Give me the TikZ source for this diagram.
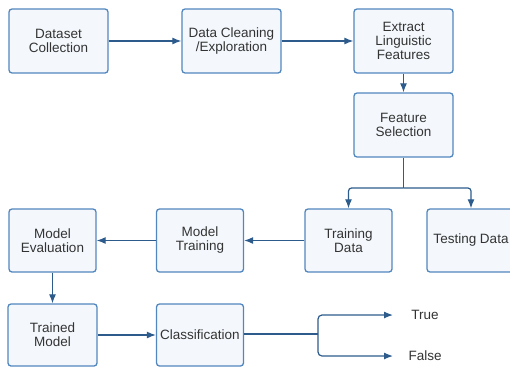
\documentclass[tikz,border=0pt]{standalone}
\usepackage{fontspec}
\setmainfont{Liberation Sans}
\usetikzlibrary{arrows.meta}
\definecolor{boxline}{HTML}{5286BF}
\definecolor{boxfill}{HTML}{F4F8FD}
\definecolor{arrowline}{HTML}{2D5B8C}
\definecolor{txtgray}{HTML}{333333}
\tikzset{
    stepbox/.style = {rectangle, rounded corners=3pt, draw=boxline, fill=boxfill, line width=1.3pt, align=center, text=txtgray, font=\fontsize{13.5}{14}\selectfont, inner sep=0pt},
    wide_box/.style = {stepbox, minimum width=99pt, minimum height=64pt},
    small_box/.style = {stepbox, minimum width=87pt, minimum height=63pt},
    flow/.style = {draw=arrowline, line width=1.2pt, -{Latex[length=9pt,width=7pt]}},
    lbl/.style = {text=txtgray, font=\fontsize{13.5}{14}\selectfont, inner sep=0pt}
}

\begin{document}
\begin{tikzpicture}[x=1pt,y=-1pt]
    \useasboundingbox (0,0) rectangle (510,367);
    % first row
    \node [wide_box] (collect) at (58.5,41) {Dataset\\Collection};
    \node [wide_box] (clean) at (231.5,41) {Data Cleaning\\/Exploration};
    \node [wide_box] (extract) at (403.5,41) {Extract\\Linguistic\\Features};
    \node [wide_box] (fsel) at (403.5,125) {Feature\\Selection};
    % second row
    \node [small_box] (traindata) at (348.5,240.5) {Training\\Data};
    \node [small_box, minimum width=88pt] (testdata) at (471,240.5) {Testing Data};
    \node [small_box] (mtrain) at (200,240.5) {Model\\Training};
    \node [small_box] (meval) at (52.5,240.5) {Model\\Evaluation};
    % third row
    \node [small_box, minimum width=89pt, minimum height=62pt] (tmodel) at (52.5,335) {Trained\\Model};
    \node [small_box, minimum height=62pt] (classif) at (200,335) {Classification};
    \node [lbl] (truelbl) at (425,315) {True};
    \node [lbl] (falselbl) at (425,356) {False};
    \coordinate (split) at (403.5,188);
    \coordinate (fork) at (318,334);
    \coordinate (trueend) at (393,315);
    \coordinate (falseend) at (393,356);

    \draw [flow] (collect) -- (clean);
    \draw [flow] (clean) -- (extract);
    \draw [flow] (extract) -- (fsel);
    \draw [draw=arrowline, line width=1.2pt] (fsel.south) -- (split);
    \draw [flow, rounded corners=3pt] (split) -| (traindata.north);
    \draw [flow, rounded corners=3pt] (split) -| (testdata.north);
    \draw [flow] (traindata) -- (mtrain);
    \draw [flow] (mtrain) -- (meval);
    \draw [flow] (meval) -- (tmodel);
    \draw [flow] (tmodel.east |- classif.west) -- (classif.west);
    \draw [draw=arrowline, line width=1.2pt] (classif.east |- fork) -- (fork);
    \draw [flow, rounded corners=4pt] (fork) |- (trueend);
    \draw [flow, rounded corners=4pt] (fork) |- (falseend);
\end{tikzpicture}
\end{document}
